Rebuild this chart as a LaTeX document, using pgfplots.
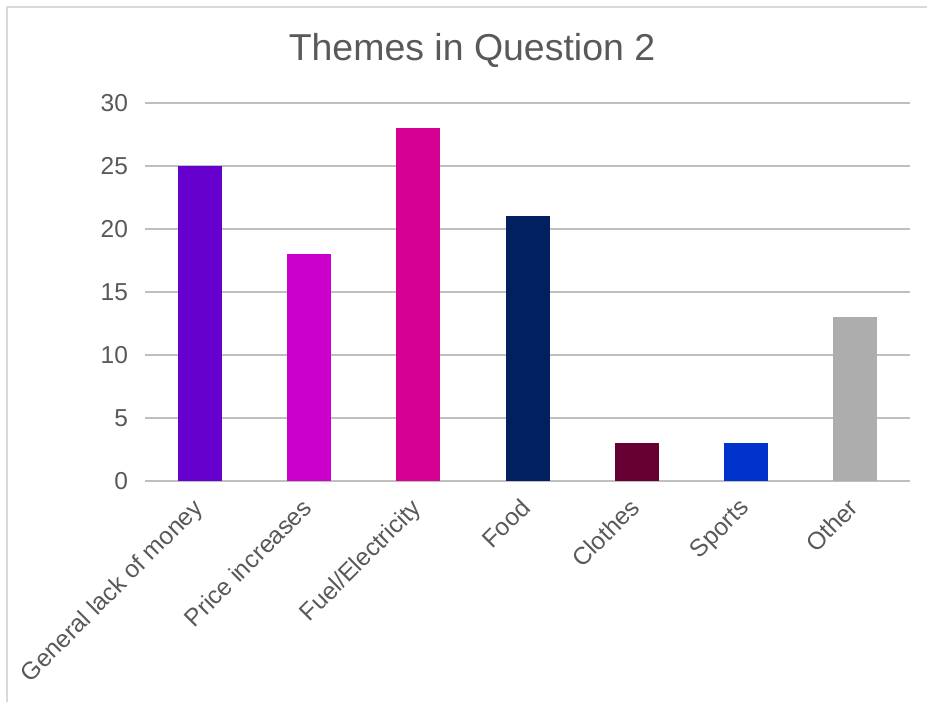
\documentclass[border=0pt]{standalone}
\usepackage{pgfplots}
\pgfplotsset{compat=1.18}
\usepackage{fontspec}
\setmainfont{Liberation Sans}
\definecolor{txt}{HTML}{595959}
\definecolor{grid}{HTML}{D9D9D9}
\definecolor{c1}{HTML}{6600CC}
\definecolor{c2}{HTML}{CC00CC}
\definecolor{c3}{HTML}{D60093}
\definecolor{c4}{HTML}{002060}
\definecolor{c5}{HTML}{660033}
\definecolor{c6}{HTML}{0033CC}
\definecolor{c7}{HTML}{ADADAD}
\begin{document}
\begin{tikzpicture}
\useasboundingbox (0,0) rectangle (463.5bp,351bp);
\draw[grid, line width=0.75bp] (3.5bp,-5bp) rectangle (470bp,347.5bp);
\node[text=txt, font=\fontsize{18.8}{22}\selectfont] at (236bp,326bp) {Themes in Question 2};
\begin{axis}[
  at={(72.5bp,110.5bp)}, anchor=south west,
  scale only axis, width=382.5bp, height=189bp,
  xmin=-0.5, xmax=6.5, ymin=0, ymax=30,
  ytick={0,5,...,30},
  xtick={0,1,2,3,4,5,6},
  xticklabels={General lack of money, Price increases, Fuel/Electricity, Food, Clothes, Sports, Other},
  axis line style={draw=none},
  major tick length=0pt, tick style={draw=none},
  xmajorgrids=false, ymajorgrids=true, grid style={grid, line width=0.75bp},
  /pgf/number format/assume math mode=true,
  tick label style={text=txt, font=\fontsize{12.3}{14}\selectfont},
  yticklabel style={xshift=-5bp},
  xticklabel style={rotate=45, anchor=north east, inner sep=0pt, xshift=-8.4bp, yshift=-2.6bp},
  ybar, bar width=22bp, bar shift=0pt,
  every axis plot/.append style={draw=none},
]
\addplot[fill=c1] coordinates {(0,25)};
\addplot[fill=c2] coordinates {(1,18)};
\addplot[fill=c3] coordinates {(2,28)};
\addplot[fill=c4] coordinates {(3,21)};
\addplot[fill=c5] coordinates {(4,3)};
\addplot[fill=c6] coordinates {(5,3)};
\addplot[fill=c7] coordinates {(6,13)};
\end{axis}
\end{tikzpicture}
\end{document}
